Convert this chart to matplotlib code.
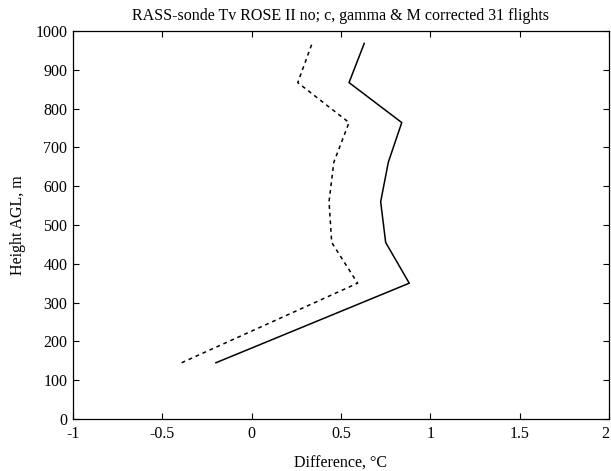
import matplotlib
matplotlib.use("Agg")
import matplotlib.pyplot as plt

plt.rcParams['font.family'] = ['Liberation Serif', 'DejaVu Serif']

heights = [145, 350, 455, 560, 662, 764, 867, 968]
solid_diff = [-0.20, 0.882, 0.75, 0.722, 0.765, 0.84, 0.545, 0.63]
dotted_diff = [-0.392, 0.593, 0.448, 0.433, 0.46, 0.545, 0.258, 0.338]

xticks = [-1, -0.5, 0, 0.5, 1, 1.5, 2]
xticklabels = ['-1', '-0.5', '0', '0.5', '1', '1.5', '2']
yticks = list(range(0, 1001, 100))

fig = plt.figure(figsize=(6.11, 4.71), dpi=100)
ax = fig.add_axes([73/611, 1-419/471, (609-73)/611, (419-31)/471])

ax.plot(solid_diff, heights, color='black', lw=1.1, linestyle='-')
ax.plot(dotted_diff, heights, color='black', lw=1.1, linestyle=(0, (2.5, 2.5)))

ax.set_xlim(-1, 2)
ax.set_ylim(0, 1000)
ax.set_xticks(xticks)
ax.set_xticklabels(xticklabels)
ax.set_yticks(yticks)
ax.tick_params(direction='in', length=4, width=0.8, top=True, right=True,
               labelsize=11.5)
ax.tick_params(axis='x', pad=5)
ax.tick_params(axis='y', pad=4)
ax.get_xticklabels()[-1].set_horizontalalignment('right')
for s in ax.spines.values():
    s.set_linewidth(0.9)

ax.set_title('RASS-sonde Tv ROSE II no; c, gamma & M corrected 31 flights',
             fontsize=11.5, pad=8)
ax.set_xlabel('Difference, °C', fontsize=11.5, labelpad=10)
ax.set_ylabel('Height AGL, m', fontsize=11.5, labelpad=7)

fig.savefig('out.png', dpi=100)
